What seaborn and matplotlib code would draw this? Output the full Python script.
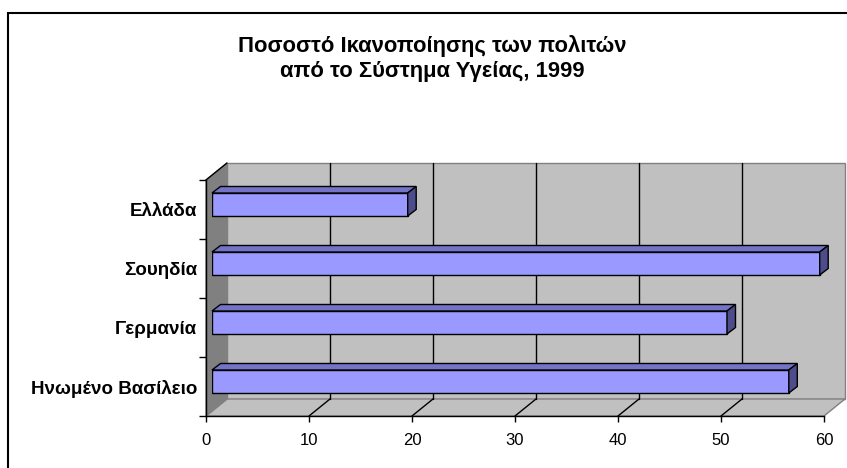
import matplotlib
matplotlib.use("Agg")
import matplotlib.pyplot as plt
from matplotlib.patches import Polygon, Rectangle
import seaborn as sns

countries = ["Ελλάδα", "Σουηδία", "Γερμανία", "Ηνωμένο Βασίλειο"]
satisfaction = [19, 59, 50, 56]
x_ticks = [0, 10, 20, 30, 40, 50, 60]
title_lines = ["Ποσοστό Ικανοποίησης των πολιτών", "από το Σύστημα Υγείας, 1999"]

sns.set_theme(style="white")
plt.rcParams["font.family"] = ["Liberation Sans", "DejaVu Sans"]
plt.rcParams.update({"text.color": "black", "xtick.color": "black",
                     "ytick.color": "black", "axes.labelcolor": "black"})

W, H = 847, 468
fig = plt.figure(figsize=(W / 100, H / 100), dpi=100)
fig.patch.set_facecolor("white")


def px_axes(x0, y0, x1, y1):
    return fig.add_axes([x0 / W, 1 - y1 / H, (x1 - x0) / W, (y1 - y0) / H])


# front plane of the 3-D box, and the plane the bars sit in (a little deeper)
front = px_axes(206, 180, 824, 416)
bars_ax = px_axes(212, 175, 830, 411)

xmax = x_ticks[-1]
ylo, yhi = -0.5, len(countries) - 0.5
for a in (front, bars_ax):
    a.set_xlim(0, xmax)
    a.set_ylim(yhi, ylo)
    a.patch.set_alpha(0)

# depth of the box in data units (21 px right, 17 px up)
px_x = xmax / 618.0
px_y = len(countries) / 236.0
dx, dy = 21 * px_x, 17 * px_y

wall_grey = "#c0c0c0"
edge_grey = "#808080"

# back wall
front.add_patch(Rectangle((dx, ylo - dy), xmax, yhi - ylo, facecolor=wall_grey,
                          edgecolor=edge_grey, lw=1, clip_on=False, zorder=0))
# floor
front.add_patch(Polygon([(0, yhi), (xmax, yhi), (xmax + dx, yhi - dy), (dx, yhi - dy)],
                        closed=True, facecolor=wall_grey, edgecolor=edge_grey, lw=1,
                        clip_on=False, zorder=0))
# left side wall
front.add_patch(Polygon([(0, ylo), (dx, ylo - dy), (dx, yhi - dy), (0, yhi)],
                        closed=True, facecolor=edge_grey, edgecolor=edge_grey, lw=1,
                        clip_on=False, zorder=0.5))
front.plot([0, dx], [ylo, ylo - dy], color="black", lw=1, clip_on=False, zorder=1)

# gridlines on the back wall and across the floor
for v in x_ticks[1:-1]:
    front.plot([v + dx, v + dx], [ylo - dy, yhi - dy], color="black", lw=1,
               clip_on=False, zorder=0.8)
    front.plot([v, v + dx], [yhi, yhi - dy], color="black", lw=1,
               clip_on=False, zorder=0.8)

# front axis styling
for side in ("top", "right"):
    front.spines[side].set_visible(False)
for side in ("left", "bottom"):
    front.spines[side].set_color("black")
    front.spines[side].set_linewidth(1)
    front.spines[side].set_zorder(3)
front.set_xticks(x_ticks)
front.set_xticklabels([str(t) for t in x_ticks], fontsize=12, color="black")
front.tick_params(axis="x", direction="out", length=4, width=1, color="black",
                  labelcolor="black", pad=8, bottom=True)
front.set_yticks(range(len(countries)))
front.set_yticklabels(countries, fontsize=13.5, fontweight="bold", color="black")
front.set_yticks([i - 0.5 for i in range(len(countries) + 1)], minor=True)
front.tick_params(axis="y", which="major", length=0, pad=6.5, left=True,
                  labelcolor="black")
front.tick_params(axis="y", which="minor", length=5, width=1, color="black",
                  direction="out", left=True)
front.grid(False)

# bars
sns.barplot(x=satisfaction, y=countries, orient="h", ax=bars_ax, width=0.39,
            color="#9999ff", saturation=1, edgecolor="black", linewidth=1, zorder=3)
bars_ax.set_xlim(0, xmax)
bars_ax.set_ylim(yhi, ylo)
bars_ax.axis("off")

bdx, bdy = 8.5 * px_x, 6.5 * px_y
for p in list(bars_ax.patches):
    x0, w = p.get_x(), p.get_width()
    yt = min(p.get_y(), p.get_y() + p.get_height())
    yb = max(p.get_y(), p.get_y() + p.get_height())
    x1 = x0 + w
    bars_ax.add_patch(Polygon([(x0, yt), (x1, yt), (x1 + bdx, yt - bdy), (x0 + bdx, yt - bdy)],
                              closed=True, facecolor="#7373c8", edgecolor="black", lw=1,
                              clip_on=False, zorder=3))
    bars_ax.add_patch(Polygon([(x1, yt), (x1, yb), (x1 + bdx, yb - bdy), (x1 + bdx, yt - bdy)],
                              closed=True, facecolor="#4d4d8c", edgecolor="black", lw=1,
                              clip_on=False, zorder=3))

# title
fig.text(432 / W, 1 - 58.5 / H, "\n".join(title_lines), ha="center", va="center",
         fontsize=15.8, fontweight="bold", linespacing=1.22, color="black")

# chart frame
fig.patches.append(Rectangle((8 / W, -0.2), 1.2, 1.2 - 13 / H, transform=fig.transFigure,
                             facecolor="none", edgecolor="black", lw=1.5, zorder=10))

fig.savefig("out.png", dpi=100)
